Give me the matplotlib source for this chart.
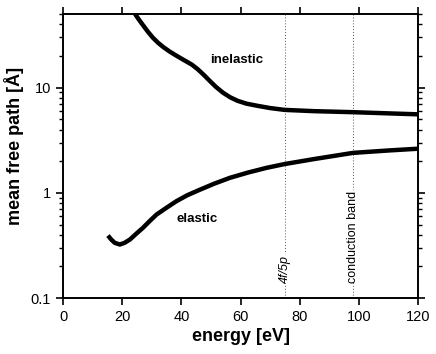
import matplotlib
matplotlib.use("Agg")
import matplotlib.pyplot as plt
from matplotlib.ticker import LogLocator, FixedLocator, NullFormatter, FixedFormatter

plt.rcParams['font.family'] = ['Liberation Sans', 'DejaVu Sans']

inel_x = [24.0, 25.5, 27.0, 28.7, 30.4, 32.2, 34.0, 36.1, 38.5, 41.0, 43.5, 45.5,
          47.5, 49.6, 51.8, 54.1, 56.5, 59.0, 62.0, 65.4, 70.0, 74.9, 85.0, 98.0,
          110.0, 120.0]
inel_y = [52.0, 45.0, 39.4, 34.0, 29.8, 26.6, 24.2, 22.0, 20.0, 18.2, 16.6, 15.0,
          13.3, 11.6, 10.1, 8.95, 8.1, 7.5, 7.05, 6.75, 6.4, 6.15, 5.98, 5.85,
          5.7, 5.58]

el_x = [15.2, 16.3, 17.5, 19.2, 20.8, 22.6, 24.8, 27.0, 29.3, 31.6, 34.9, 38.3,
        42.0, 46.2, 51.0, 56.4, 62.5, 68.8, 74.9, 85.0, 98.0, 110.0, 120.0]
el_y = [0.393, 0.36, 0.335, 0.323, 0.335, 0.36, 0.41, 0.465, 0.54, 0.622, 0.72, 0.833,
        0.95, 1.07, 1.22, 1.39, 1.56, 1.73, 1.88, 2.1, 2.4, 2.53, 2.63]

marker_x = [75, 98]
marker_labels = ["4f/5p", "conduction band"]

xticks = [0, 20, 40, 60, 80, 100, 120]
yticks = [0.1, 1, 10]
ytick_labels = ["0.1", "1", "10"]

fig = plt.figure(figsize=(4.36, 3.54), dpi=100)
ax = fig.add_axes([0.1445, 0.158, 0.8145, 0.802])

for xm, lab in zip(marker_x, marker_labels):
    ax.axvline(xm, color='#555555', lw=0.7, ls=(0, (1, 2)), zorder=1)
    ax.text(xm, 0.14, lab, rotation=90, ha='center', va='bottom', fontsize=9,
            style='italic' if '/' in lab else 'normal',
            bbox=dict(facecolor='white', edgecolor='none', pad=0.5), zorder=2)

for xs, ys in [(inel_x, inel_y), (el_x, el_y)]:
    ax.plot(xs, ys, color='black', lw=3.2, solid_capstyle='butt',
            solid_joinstyle='round', zorder=3)

ax.text(58.6, 18.3, "inelastic", fontsize=9.5, fontweight='bold', ha='center', va='center')
ax.text(45.4, 0.57, "elastic", fontsize=9.5, fontweight='bold', ha='center', va='center')

ax.set_yscale('log')
ax.set_xlim(0, 120)
ax.set_ylim(0.1, 50)
ax.xaxis.set_major_locator(FixedLocator(xticks))
ax.yaxis.set_major_locator(FixedLocator(yticks))
ax.yaxis.set_major_formatter(FixedFormatter(ytick_labels))
ax.yaxis.set_minor_locator(LogLocator(base=10, subs=range(2, 10)))
ax.yaxis.set_minor_formatter(NullFormatter())

ax.tick_params(which='both', direction='out', top=True, right=True, labelsize=10.5,
               width=1.2, colors='black')
ax.tick_params(which='major', length=5)
ax.tick_params(which='minor', length=3, width=1.0)
for s in ax.spines.values():
    s.set_linewidth(1.4)

ax.set_xlabel("energy [eV]", fontsize=13, fontweight='bold', labelpad=3)
ax.set_ylabel("mean free path [Å]", fontsize=13, fontweight='bold')
ax.yaxis.set_label_coords(-0.11, 0.535)

fig.savefig("out.png", dpi=100)
